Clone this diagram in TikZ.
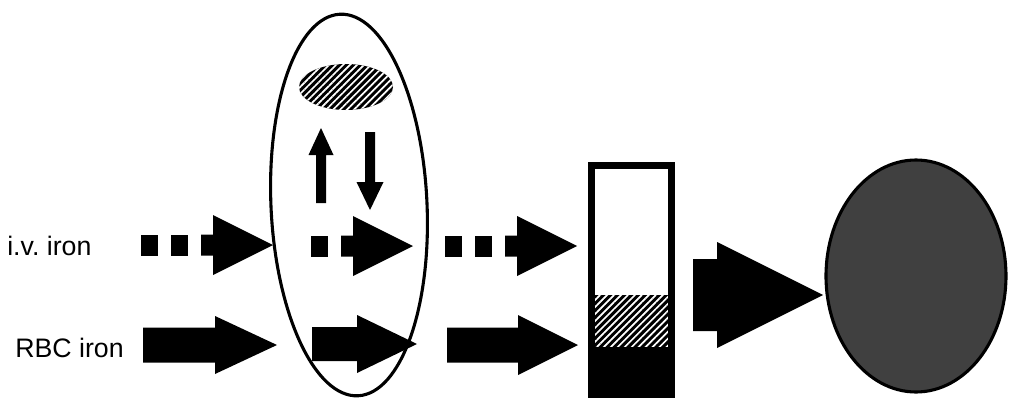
\documentclass[tikz,border=0pt]{standalone}
\usepackage{fontspec}
\setmainfont{Liberation Sans}
\usetikzlibrary{calc,patterns.meta}
% block arrow: [angle]{tail}{length}{shaft half}{head half}{head length}
\newcommand{\fatarrow}[6][0]{%
  \fill[shift={(#2)}, rotate=#1] (0,-#4) -- (#3-#6,-#4) -- (#3-#6,-#5) -- (#3,0)
    -- (#3-#6,#5) -- (#3-#6,#4) -- (0,#4) -- cycle;
}
% broken block arrow ending at #2: #1 squares, a stub and the head
\newcommand{\dotarrow}[2][2]{%
  \fatarrow{$(#2)+(-72,0)$}{72}{10.5}{30}{60}
  \foreach \k in {1,...,#1}{
    \fill ($(#2)+(-72-30*\k,-10.5)$) rectangle ++(17,21);
  }
}

\begin{document}
\begin{tikzpicture}[x=0.025cm, y=-0.025cm]
\tikzset{iron/.style={font=\fontsize{19}{22}\selectfont, inner sep=0pt, anchor=base west},
  outline/.style={line width=2.2pt},
  stripes/.style={pattern={Lines[angle=45,distance=3.5pt,line width=1.2pt]}, pattern color=white}}
\useasboundingbox (0,0) rectangle (1009,401);

% places (px)
\coordinate (vesicle) at (349,205);
\coordinate (store)   at (346,87);
\coordinate (cell)    at (916,276);
\coordinate (ivIn)    at (273,245);
\coordinate (ivMid)   at (413,246);
\coordinate (ivOut)   at (577,246);
\coordinate (rbcIn)   at (143,345);
\coordinate (rbcMid)  at (312,344);
\coordinate (rbcOut)  at (447,345);
\coordinate (barIn)   at (693,295);
\coordinate (upTail)  at (321,203);
\coordinate (dnTail)  at (370,132);

% labels
\node[iron] (ivlabel)  at (7,255)  {i.v.\ iron};
\node[iron] (rbclabel) at (15,357) {RBC iron};

% macrophage with storage pool
\draw[outline, shift={(vesicle)}, rotate=2.7] (0,0) ellipse [x radius=78, y radius=191];
\fill (store) ellipse [x radius=47, y radius=23];
\fill[stripes] (store) ellipse [x radius=47, y radius=23];
\fatarrow[90]{upTail}{75}{5}{12.5}{27}
\fatarrow[-90]{dnTail}{78}{5}{13.5}{28}

% i.v. iron row
\dotarrow{ivIn}
\dotarrow[1]{ivMid}
\dotarrow{ivOut}

% RBC iron row
\fatarrow{rbcIn}{134}{17.5}{29}{62}
\fatarrow{rbcMid}{105}{17}{29}{60}
\fatarrow{rbcOut}{131}{17.5}{30}{60}

% transferrin bar
\fill (591.5,295) rectangle (671.5,347);
\fill[stripes] (591.5,295) rectangle (671.5,347);
\fill (591.5,347) rectangle (671.5,394.5);
\draw[line width=5pt] (591.5,165.5) rectangle (671.5,394.5);

% to the red cell
\fatarrow{barIn}{130}{36}{53}{106}
\draw[outline, fill=black!75] (cell) ellipse [x radius=90, y radius=116];
\end{tikzpicture}
\end{document}
